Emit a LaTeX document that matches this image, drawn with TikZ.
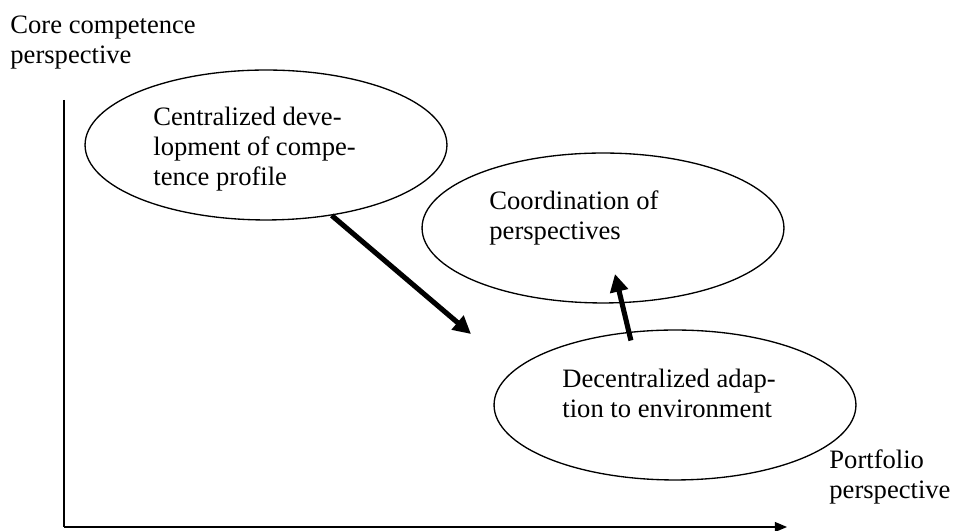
\documentclass[tikz,border=0pt]{standalone}
\usepackage{fontspec}
\setmainfont{Liberation Serif}
\usetikzlibrary{shapes.geometric,arrows.meta}

\begin{document}
\begin{tikzpicture}[x=0.4515pt, y=-0.4515pt,
  bubble/.style={ellipse, draw=black, line width=0.6pt, minimum width=163.4pt, minimum height=67.7pt, inner sep=0pt},
  txt/.style={anchor=north west, align=left, inner sep=0pt, font=\fontsize{12pt}{13.55pt}\selectfont},
  bigarrow/.style={line width=2.3pt, -{Triangle[length=8pt,width=8pt]}},
  axis/.style={line width=0.6pt}]
\useasboundingbox (0,0) rectangle (953,531);
\node[bubble] (Central) at (266,145) {};
\node[bubble] (Coord) at (603,228) {};
\node[bubble] (Decentral) at (675,405) {};
\node[txt] (CentralText) at (153,107) {Centralized deve-\\lopment of compe-\\tence profile};
\node[txt] (CoordText) at (489,190) {Coordination of\\perspectives};
\node[txt] (DecentralText) at (562,369) {Decentralized adap-\\tion to environment};
\node[txt] (CoreLabel) at (10,15) {Core competence\\perspective};
\node[txt] (PortLabel) at (829,449) {Portfolio\\perspective};
\coordinate (Origin) at (64,527);
\coordinate (YTop) at (64,100);
\coordinate (XEnd) at (787,527);
\coordinate (TipA) at (471,334);
\coordinate (TipB) at (615,274);
\draw[axis] (YTop) -- (Origin);
\draw[axis, -{Triangle[length=5.5pt,width=4.5pt]}] (Origin) -- (XEnd);
\draw[bigarrow] (Central.-47) -- (TipA);
\draw[bigarrow] ([yshift=-4pt]Decentral.121) -- (TipB);
\end{tikzpicture}
\end{document}
